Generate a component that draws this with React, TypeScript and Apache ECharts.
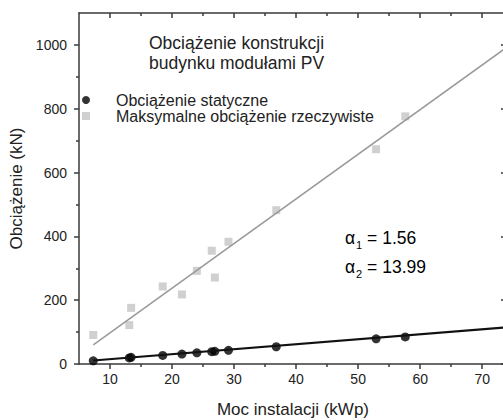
import React, { useEffect, useRef } from "react";
import * as echarts from "echarts";

// Installed power (kWp) of each PV installation
const powerKWp = [7.3, 13.1, 13.4, 18.5, 21.6, 24.0, 26.4, 26.9, 29.1, 36.8, 52.9, 57.6];
// Static load (kN)
const staticLoad = [10, 19, 21, 27, 31, 35, 38.6, 39.6, 42.8, 54, 79, 85];
// Maximum real load (kN)
const maxLoad = [91, 122, 176, 243, 218, 292, 355, 271, 383, 482, 673, 776];
// Fitted line endpoints [x, y]
const fitStatic = [[7.3, 11], [74, 115]];
const fitMax = [[7.3, 60], [74, 993]];

const xTickValues = [10, 20, 30, 40, 50, 60, 70];
const xMinorTickValues = [15, 25, 35, 45, 55, 65];
const yTickValues = [0, 200, 400, 600, 800, 1000];
const yMinorTickValues = [100, 300, 500, 700, 900];

const seriesStatic = "Obciążenie statyczne";
const seriesMax = "Maksymalne obciążenie rzeczywiste";
const titleText = "Obciążenie konstrukcji\nbudynku modułami PV";
const alpha1 = "1.56";
const alpha2 = "13.99";

const FONT = "'Liberation Sans', Arial, sans-serif";
const AXIS_COLOR = "#3a3a3a";
const TEXT_COLOR = "#222";

export default function App() {
  const ref = useRef<HTMLDivElement>(null);

  useEffect(() => {
    if (!ref.current) return;
    const chart = echarts.init(ref.current, undefined, { renderer: "svg" });

    const axisLineStyle = { color: AXIS_COLOR, width: 1.5 };
    const baseX = {
      type: "value" as const,
      min: 5,
      max: 74,
      gridIndex: 0,
      splitLine: { show: false },
    };
    const baseY = {
      type: "value" as const,
      min: 0,
      max: 1100,
      gridIndex: 0,
      splitLine: { show: false },
    };

    const alphaRich = {
      a: { fontSize: 17.5, fontFamily: FONT, color: TEXT_COLOR },
      s: { fontSize: 11, fontFamily: FONT, color: TEXT_COLOR, padding: [14, 0, 0, 1] },
      t: { fontSize: 17.5, fontFamily: FONT, color: TEXT_COLOR },
    };

    chart.setOption({
      animation: false,
      backgroundColor: "#fff",
      title: {
        text: titleText,
        left: 149,
        top: 33,
        padding: 0,
        textStyle: {
          fontSize: 17.5,
          lineHeight: 20,
          fontWeight: "normal",
          color: TEXT_COLOR,
          fontFamily: FONT,
        },
      },
      legend: {
        data: [seriesStatic, seriesMax],
        orient: "vertical",
        left: 82,
        top: 92,
        padding: 0,
        itemGap: 0,
        itemWidth: 8,
        itemHeight: 8,
        selectedMode: false,
        textStyle: {
          fontSize: 16,
          color: TEXT_COLOR,
          fontFamily: FONT,
          padding: [0, 0, 0, 21],
        },
      },
      grid: { left: 79, right: 13, top: 13, bottom: 56, containLabel: false, outerBoundsMode: "none" },
      xAxis: [
        {
          ...baseX,
          position: "bottom",
          axisLine: { show: true, onZero: false, lineStyle: axisLineStyle },
          axisTick: { show: true, inside: false, length: 5, customValues: xTickValues, lineStyle: axisLineStyle },
          axisLabel: {
            customValues: xTickValues,
            fontSize: 14,
            color: TEXT_COLOR,
            fontFamily: FONT,
            margin: 8,
            formatter: (v: number) => String(v),
          },
          name: "Moc instalacji (kWp)",
          nameLocation: "middle",
          nameGap: 37,
          nameTextStyle: { fontSize: 17, color: TEXT_COLOR, fontFamily: FONT },
        },
        {
          ...baseX,
          position: "bottom",
          axisLine: { show: false, onZero: false },
          axisTick: { show: true, inside: false, length: 3, customValues: xMinorTickValues, lineStyle: axisLineStyle },
          axisLabel: { show: false },
        },
        {
          ...baseX,
          position: "top",
          axisLine: { show: true, onZero: false, lineStyle: axisLineStyle },
          axisTick: { show: true, inside: true, length: 5, customValues: xTickValues, lineStyle: axisLineStyle },
          axisLabel: { show: false },
        },
        {
          ...baseX,
          position: "top",
          axisLine: { show: false, onZero: false },
          axisTick: { show: true, inside: true, length: 3, customValues: xMinorTickValues, lineStyle: axisLineStyle },
          axisLabel: { show: false },
        },
      ],
      yAxis: [
        {
          ...baseY,
          position: "left",
          axisLine: { show: true, onZero: false, lineStyle: axisLineStyle },
          axisTick: { show: true, inside: false, length: 5, customValues: yTickValues, lineStyle: axisLineStyle },
          axisLabel: {
            customValues: yTickValues,
            fontSize: 14,
            color: TEXT_COLOR,
            fontFamily: FONT,
            margin: 12,
            formatter: (v: number) => String(v),
          },
          name: "Obciążenie (kN)",
          nameLocation: "middle",
          nameGap: 48,
          nameTextStyle: { fontSize: 17, color: TEXT_COLOR, fontFamily: FONT },
        },
        {
          ...baseY,
          position: "left",
          axisLine: { show: false, onZero: false },
          axisTick: { show: true, inside: false, length: 3, customValues: yMinorTickValues, lineStyle: axisLineStyle },
          axisLabel: { show: false },
        },
        {
          ...baseY,
          position: "right",
          axisLine: { show: true, onZero: false, lineStyle: axisLineStyle },
          axisTick: { show: true, inside: true, length: 6, customValues: yTickValues, lineStyle: axisLineStyle },
          axisLabel: { show: false },
        },
      ],
      graphic: [
        {
          type: "text",
          x: 345,
          y: 238,
          style: {
            text: `{a|α}{s|1}{t| = ${alpha1}}`,
            rich: alphaRich,
            verticalAlign: "middle",
            align: "left",
          },
        },
        {
          type: "text",
          x: 345,
          y: 266.5,
          style: {
            text: `{a|α}{s|2}{t| = ${alpha2}}`,
            rich: alphaRich,
            verticalAlign: "middle",
            align: "left",
          },
        },
      ],
      series: [
        {
          name: "fitMax",
          type: "line",
          xAxisIndex: 0,
          yAxisIndex: 0,
          data: fitMax,
          symbol: "none",
          lineStyle: { color: "#999", width: 1.5 },
          silent: true,
        },
        {
          name: seriesMax,
          type: "scatter",
          xAxisIndex: 0,
          yAxisIndex: 0,
          symbol: "rect",
          symbolSize: 8,
          itemStyle: { color: "#c4c4c4" },
          data: powerKWp.map((x, i) => [x, maxLoad[i]]),
        },
        {
          name: "fitStatic",
          type: "line",
          xAxisIndex: 0,
          yAxisIndex: 0,
          data: fitStatic,
          symbol: "none",
          lineStyle: { color: "#111", width: 2 },
          silent: true,
        },
        {
          name: seriesStatic,
          type: "scatter",
          xAxisIndex: 0,
          yAxisIndex: 0,
          symbol: "circle",
          symbolSize: 9,
          itemStyle: { color: "#000" },
          data: powerKWp.map((x, i) => [x, staticLoad[i]]),
        },
      ],
    });

    return () => chart.dispose();
  }, []);

  return (
    <div
      style={{
        position: "fixed",
        left: 0,
        top: 0,
        width: 503,
        height: 420,
        overflow: "hidden",
        background: "#fff",
      }}
    >
      <div ref={ref} style={{ width: 520, height: 420 }} />
    </div>
  );
}
